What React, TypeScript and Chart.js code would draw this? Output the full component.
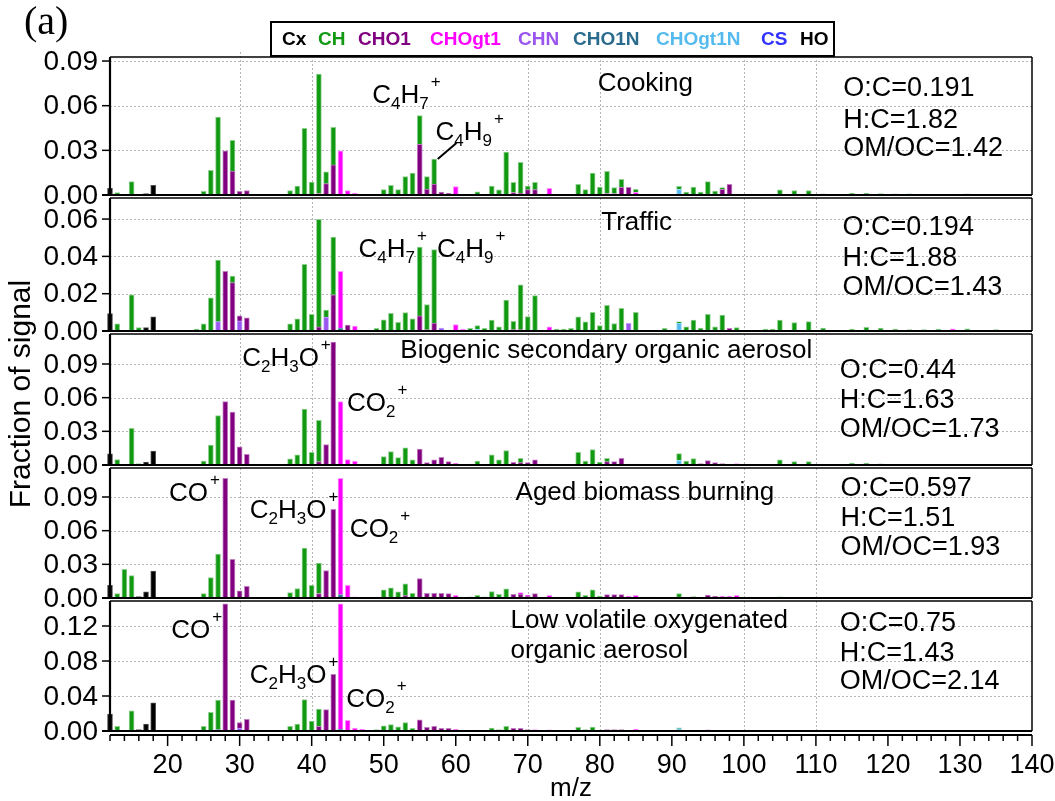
import React, { useEffect, useRef } from 'react';
import { Chart, registerables } from 'chart.js';
Chart.register(...registerables);

type Pair = [number, number];

// ---------- data: [m/z, fraction of signal] ----------
// Cooking
const cookCx: Pair[] = [[12, 0.0045]];
const cookHO: Pair[] = [[17, 0.001], [18, 0.0065]];
const cookCH: Pair[] = [[13, 0.0016], [15, 0.009], [25, 0.0025], [26, 0.0166], [27, 0.0524], [29, 0.0206], [37, 0.003], [38, 0.006], [39, 0.0448], [40, 0.0087], [41, 0.0803], [42, 0.0079], [43, 0.0253], [49, 0.0005], [50, 0.0036], [51, 0.0065], [52, 0.0036], [53, 0.0123], [54, 0.0143], [55, 0.0193], [56, 0.0083], [57, 0.0168], [62, 0.0005], [63, 0.0016], [65, 0.006], [66, 0.0034], [67, 0.0289], [68, 0.0069], [69, 0.0207], [70, 0.0024], [71, 0.0049], [72, 0.0004], [77, 0.0072], [78, 0.0036], [79, 0.0148], [80, 0.0054], [81, 0.0149], [82, 0.004], [83, 0.0053], [85, 0.002], [86, 0.0005], [89, 0.0007], [91, 0.002], [92, 0.002], [93, 0.0054], [94, 0.002], [95, 0.0083], [96, 0.0027], [97, 0.0012], [103, 0.0007], [104, 0.0007], [105, 0.0034], [107, 0.003], [109, 0.003], [111, 0.0008], [115, 0.0012], [117, 0.0012], [119, 0.001], [121, 0.0008], [123, 0.0008], [125, 0.0006], [131, 0.0008], [135, 0.0005]];
const cookCHO1: Pair[] = [[28, 0.0296], [29, 0.0161], [30, 0.0025], [31, 0.003], [41, 0.001], [42, 0.0076], [43, 0.0202], [54, 0.0005], [55, 0.034], [56, 0.004], [57, 0.0074], [58, 0.0019], [59, 0.0011], [68, 0.0016], [69, 0.0013], [70, 0.0036], [71, 0.0036], [81, 0.001], [82, 0.001], [83, 0.0052], [84, 0.0052], [95, 0.0007], [97, 0.0038], [98, 0.0072], [99, 0.0007]];
const cookCHOgt1: Pair[] = [[44, 0.0296], [45, 0.003], [46, 0.0013], [60, 0.0056], [61, 0.0007], [73, 0.0045], [74, 0.0007], [85, 0.0018], [87, 0.0007], [129, 0.0006]];
const cookCHN: Pair[] = [];
const cookCHO1N: Pair[] = [[63, 0.0005]];
const cookCHOgt1N: Pair[] = [[91, 0.0038]];

// Traffic
const trafCx: Pair[] = [[12, 0.0094]];
const trafHO: Pair[] = [[17, 0.0018], [18, 0.0076]];
const trafCH: Pair[] = [[13, 0.0038], [15, 0.0194], [16, 0.0018], [24, 0.001], [25, 0.0038], [26, 0.0178], [27, 0.033], [29, 0.0036], [37, 0.0038], [38, 0.0065], [39, 0.0358], [40, 0.009], [41, 0.0576], [42, 0.0038], [43, 0.031], [49, 0.0014], [50, 0.006], [51, 0.0095], [52, 0.0047], [53, 0.0099], [54, 0.0065], [55, 0.0369], [56, 0.0135], [57, 0.0394], [62, 0.0014], [63, 0.0019], [64, 0.0014], [65, 0.0058], [66, 0.0023], [67, 0.0166], [68, 0.0045], [69, 0.024], [70, 0.0077], [71, 0.019], [72, 0.0005], [74, 0.001], [75, 0.001], [76, 0.0014], [77, 0.0076], [78, 0.0049], [79, 0.01], [80, 0.0029], [81, 0.0137], [82, 0.004], [83, 0.0122], [85, 0.01], [89, 0.0014], [91, 0.0006], [92, 0.0023], [93, 0.0058], [94, 0.0016], [95, 0.009], [96, 0.0023], [97, 0.0085], [99, 0.0018], [103, 0.001], [104, 0.001], [105, 0.0058], [107, 0.0045], [109, 0.005], [111, 0.0015], [115, 0.001], [117, 0.002], [119, 0.0015], [121, 0.001], [123, 0.0008], [125, 0.0008], [127, 0.001], [131, 0.0012], [135, 0.0008]];
const trafCHO1: Pair[] = [[28, 0.032], [29, 0.0259], [30, 0.0027], [31, 0.007], [41, 0.0022], [43, 0.0194], [45, 0.0032], [55, 0.0081], [56, 0.0007], [57, 0.0043], [68, 0.0007], [69, 0.0007], [98, 0.0014]];
const trafCHOgt1: Pair[] = [[44, 0.0305], [46, 0.0027], [60, 0.0034], [61, 0.001], [73, 0.0018], [129, 0.0012]];
const trafCHN: Pair[] = [[27, 0.005], [30, 0.0054], [42, 0.0074], [58, 0.0016], [84, 0.0041]];
const trafCHO1N: Pair[] = [[44, 0.0015], [73, 0.0005]];
const trafCHOgt1N: Pair[] = [[63, 0.001], [91, 0.0043]];

// Biogenic SOA
const bsoaCx: Pair[] = [[12, 0.0099]];
const bsoaHO: Pair[] = [[17, 0.0027], [18, 0.0123]];
const bsoaCH: Pair[] = [[13, 0.0048], [15, 0.0327], [16, 0.0012], [25, 0.0036], [26, 0.0177], [27, 0.0441], [37, 0.0054], [38, 0.009], [39, 0.0498], [40, 0.0114], [41, 0.0369], [49, 0.0006], [50, 0.0075], [51, 0.012], [52, 0.0066], [53, 0.0153], [54, 0.0045], [62, 0.0009], [63, 0.003], [65, 0.009], [66, 0.0045], [67, 0.0129], [69, 0.0039], [77, 0.0114], [78, 0.0036], [79, 0.0138], [80, 0.0027], [81, 0.003], [91, 0.006], [92, 0.0036], [93, 0.0057], [105, 0.0045], [107, 0.003], [109, 0.003], [115, 0.0015], [117, 0.0015], [119, 0.001]];
const bsoaCHO1: Pair[] = [[28, 0.0564], [29, 0.0471], [30, 0.0156], [31, 0.0096], [41, 0.003], [42, 0.0177], [43, 0.1095], [55, 0.0141], [56, 0.0021], [57, 0.0045], [58, 0.0069], [59, 0.003], [68, 0.0024], [69, 0.0021], [70, 0.0021], [71, 0.0045], [73, 0.0009], [81, 0.003], [82, 0.003], [83, 0.006], [84, 0.0009], [94, 0.0012], [95, 0.0039], [96, 0.0021], [97, 0.0012]];
const bsoaCHOgt1: Pair[] = [[44, 0.0564], [45, 0.0048], [46, 0.0036], [60, 0.0015], [74, 0.0006], [85, 0.0009], [98, 0.0009], [99, 0.0012]];
const bsoaCHN: Pair[] = [[30, 0.0006], [42, 0.0006]];
const bsoaCHO1N: Pair[] = [];
const bsoaCHOgt1N: Pair[] = [[63, 0.0006], [91, 0.0042]];

// Aged biomass burning
const abbCx: Pair[] = [[12, 0.0112]];
const abbHO: Pair[] = [[16, 0.0012], [17, 0.0055], [18, 0.0239]];
const abbCH: Pair[] = [[13, 0.0039], [14, 0.0255], [15, 0.02], [25, 0.0039], [26, 0.0182], [27, 0.0391], [37, 0.0048], [38, 0.0085], [39, 0.0445], [40, 0.0112], [41, 0.0273], [49, 0.0009], [50, 0.0073], [51, 0.0091], [52, 0.0055], [53, 0.0106], [54, 0.0042], [62, 0.001], [63, 0.0018], [64, 0.001], [65, 0.0058], [66, 0.0033], [67, 0.0082], [77, 0.0055], [78, 0.0024], [79, 0.0073], [80, 0.0018], [89, 0.0009], [91, 0.003], [93, 0.0012], [105, 0.001]];
const abbCHO1: Pair[] = [[28, 0.1067], [29, 0.0345], [30, 0.0064], [31, 0.0103], [41, 0.0039], [42, 0.0245], [43, 0.0791], [53, 0.0021], [55, 0.0173], [56, 0.0042], [57, 0.0042], [58, 0.0042], [59, 0.0039], [68, 0.0033], [69, 0.0036], [70, 0.0018], [71, 0.0039], [81, 0.003], [82, 0.003], [83, 0.003], [95, 0.0027], [96, 0.0015]];
const abbCHOgt1: Pair[] = [[22, 0.0005], [44, 0.1037], [45, 0.0112], [46, 0.001], [47, 0.0006], [60, 0.0024], [69, 0.0012], [70, 0.0006], [72, 0.0009], [73, 0.0024], [74, 0.0009], [75, 0.0006], [84, 0.0018], [85, 0.0024], [86, 0.0009], [87, 0.0009], [97, 0.0015], [98, 0.0015], [99, 0.0024], [101, 0.0009], [103, 0.0006]];
const abbCHN: Pair[] = [];
const abbCHO1N: Pair[] = [[44, 0.003]];
const abbCHOgt1N: Pair[] = [[63, 0.0006], [91, 0.0009]];

// Low volatile OOA
const lvCx: Pair[] = [[12, 0.0193]];
const lvHO: Pair[] = [[16, 0.0015], [17, 0.008], [18, 0.0322]];
const lvCH: Pair[] = [[13, 0.0053], [15, 0.0231], [25, 0.0053], [26, 0.0212], [27, 0.0337], [37, 0.0053], [38, 0.008], [39, 0.036], [40, 0.0114], [41, 0.0197], [49, 0.0015], [50, 0.006], [51, 0.0072], [52, 0.0049], [53, 0.0095], [54, 0.003], [62, 0.0008], [63, 0.001], [65, 0.0034], [66, 0.0015], [67, 0.0053], [77, 0.0042], [78, 0.0015], [79, 0.0045], [80, 0.001], [91, 0.0008]];
const lvCHO1: Pair[] = [[28, 0.1452], [29, 0.0352], [30, 0.0061], [31, 0.0133], [41, 0.0053], [42, 0.0246], [43, 0.0648], [55, 0.0129], [56, 0.0042], [57, 0.0053], [58, 0.003], [59, 0.003], [68, 0.003], [69, 0.003], [70, 0.0015], [81, 0.0015], [82, 0.0015], [83, 0.0015], [95, 0.0012]];
const lvCHOgt1: Pair[] = [[44, 0.1432], [45, 0.0121], [46, 0.0034], [47, 0.0019], [60, 0.002], [71, 0.0015], [73, 0.0012], [85, 0.0023]];
const lvCHN: Pair[] = [[27, 0.0015], [30, 0.0034]];
const lvCHO1N: Pair[] = [[44, 0.002]];
const lvCHOgt1N: Pair[] = [[91, 0.0027]];

// ---------- labels / axes ----------
const FAMILIES = ['Cx', 'CH', 'CHO1', 'CHOgt1', 'CHN', 'CHO1N', 'CHOgt1N', 'CS', 'HO'];
const STACK_ORDER = ['CHO1N', 'CHOgt1N', 'CHN', 'CS', 'Cx', 'HO', 'CHO1', 'CHOgt1', 'CH'];
const FAMILY_COLORS: Record<string, string> = {
  Cx: '#000000', CH: '#119911', CHO1: '#800080', CHOgt1: '#ff00ff', CHN: '#9955ee',
  CHO1N: '#2a6b8e', CHOgt1N: '#55bbee', CS: '#3333ff', HO: '#000000',
};
const FAMILY_EDGES: Record<string, string> = {
  Cx: '#555555', CH: '#8fd08f', CHO1: '#c080c0', CHOgt1: '#ff99ff', CHN: '#c0a0ff',
  CHO1N: '#80a8c0', CHOgt1N: '#a0dcf8', CS: '#9999ff', HO: '#555555',
};
const LEGEND_X = [282, 318, 358, 430, 518, 573, 656, 761, 800];

const PANEL_NAMES = [['Cooking'], ['Traffic'], ['Biogenic secondary organic aerosol'], ['Aged biomass burning'], ['Low volatile oxygenated', 'organic aerosol']];
const PANEL_RATIOS = [
  ['O:C=0.191', 'H:C=1.82', 'OM/OC=1.42'],
  ['O:C=0.194', 'H:C=1.88', 'OM/OC=1.43'],
  ['O:C=0.44', 'H:C=1.63', 'OM/OC=1.73'],
  ['O:C=0.597', 'H:C=1.51', 'OM/OC=1.93'],
  ['O:C=0.75', 'H:C=1.43', 'OM/OC=2.14'],
];
const Y_MAX = [0.0927, 0.0729, 0.1194, 0.1185, 0.152];
const Y_STEP = [0.03, 0.02, 0.03, 0.03, 0.04];
const Y_TICK_MAX = [0.09, 0.06, 0.09, 0.09, 0.12];
const PANEL_WEIGHT = [138, 136, 134, 133, 133];
const X_MIN = 12;
const X_MAX = 140;
const X_TICKS = [20, 30, 40, 50, 60, 70, 80, 90, 100, 110, 120, 130, 140];
const V_GRID = [30, 40, 70, 80, 100, 110];

// annotations: [text, m/z of left edge, px above baseline]
type Ann = [string, number, number];
const NAME_POS: [number, number][] = [[79.7, 104], [80.2, 101], [52.3, 107], [68.3, 98], [67.6, 103]];
const RATIO_POS: [number, number[]][] = [
  [113.8, [99, 67, 39]], [113.7, [96, 65, 36]], [113.3, [87, 57, 28]], [113.4, [102, 72, 43]], [113.3, [100, 70, 42]],
];
const ION_LABELS: Ann[][] = [
  [['C_4H_7^+', 48.4, 92], ['C_4H_9^+', 57.2, 55]],
  [['C_4H_7^+', 46.5, 74], ['C_4H_9^+', 57.4, 74]],
  [['C_2H_3O^+', 30.35, 99], ['CO_2^+', 44.9, 54]],
  [['CO^+', 20.2, 97], ['C_2H_3O^+', 31.4, 80], ['CO_2^+', 45.3, 61]],
  [['CO^+', 20.5, 93], ['C_2H_3O^+', 31.4, 48], ['CO_2^+', 44.8, 24]],
];

const PANEL_DATA: Record<string, Pair[]>[] = [
  { Cx: cookCx, CH: cookCH, CHO1: cookCHO1, CHOgt1: cookCHOgt1, CHN: cookCHN, CHO1N: cookCHO1N, CHOgt1N: cookCHOgt1N, CS: [], HO: cookHO },
  { Cx: trafCx, CH: trafCH, CHO1: trafCHO1, CHOgt1: trafCHOgt1, CHN: trafCHN, CHO1N: trafCHO1N, CHOgt1N: trafCHOgt1N, CS: [], HO: trafHO },
  { Cx: bsoaCx, CH: bsoaCH, CHO1: bsoaCHO1, CHOgt1: bsoaCHOgt1, CHN: bsoaCHN, CHO1N: bsoaCHO1N, CHOgt1N: bsoaCHOgt1N, CS: [], HO: bsoaHO },
  { Cx: abbCx, CH: abbCH, CHO1: abbCHO1, CHOgt1: abbCHOgt1, CHN: abbCHN, CHO1N: abbCHO1N, CHOgt1N: abbCHOgt1N, CS: [], HO: abbHO },
  { Cx: lvCx, CH: lvCH, CHO1: lvCHO1, CHOgt1: lvCHOgt1, CHN: lvCHN, CHO1N: lvCHO1N, CHOgt1N: lvCHOgt1N, CS: [], HO: lvHO },
];

const FONT = '"Liberation Sans", Arial, Helvetica, sans-serif';
const TXT = 26;
const RATIO_TXT = 27;
const TICK_TXT = 28;

function drawRich(ctx: CanvasRenderingContext2D, text: string, x: number, y: number, size: number) {
  let cx = x;
  let i = 0;
  ctx.textAlign = 'left';
  ctx.textBaseline = 'alphabetic';
  while (i < text.length) {
    const ch = text[i];
    if (ch === '_' || ch === '^') {
      const c = text[i + 1];
      const s = Math.round(size * 0.66);
      ctx.font = `${s}px ${FONT}`;
      const dy = ch === '_' ? size * 0.24 : -size * 0.6;
      if (ch === '^') cx += 2;
      ctx.fillText(c, cx, y + dy);
      cx += ctx.measureText(c).width;
      i += 2;
    } else {
      ctx.font = `${size}px ${FONT}`;
      ctx.fillText(ch, cx, y);
      cx += ctx.measureText(ch).width;
      i += 1;
    }
  }
}

function line(ctx: CanvasRenderingContext2D, x1: number, y1: number, x2: number, y2: number) {
  ctx.beginPath();
  ctx.moveTo(x1, y1);
  ctx.lineTo(x2, y2);
  ctx.stroke();
}

function panelTop(chart: any, i: number) {
  const ys = chart.scales['y' + i];
  return i === 0 ? ys.top : ys.top + 3;
}

const framePlugin = {
  id: 'msFrames',
  beforeDatasetsDraw(chart: any) {
    const ctx: CanvasRenderingContext2D = chart.ctx;
    const xs = chart.scales.x;
    const area = chart.chartArea;
    ctx.save();
    ctx.strokeStyle = '#b4b4b4';
    ctx.lineWidth = 1;
    ctx.setLineDash([2, 2]);
    for (let i = 0; i < 5; i++) {
      const ys = chart.scales['y' + i];
      const top = panelTop(chart, i);
      const base = ys.getPixelForValue(0);
      for (let v = Y_STEP[i]; v <= Y_TICK_MAX[i] + 1e-9; v += Y_STEP[i]) {
        const y = Math.round(ys.getPixelForValue(v)) + 0.5;
        line(ctx, area.left, y, area.right, y);
      }
      V_GRID.forEach((m) => {
        const x = Math.round(xs.getPixelForValue(m)) + 0.5;
        line(ctx, x, i === 0 ? top - 5 : top, x, base);
      });
    }
    ctx.restore();
  },
  afterDatasetsDraw(chart: any) {
    const ctx: CanvasRenderingContext2D = chart.ctx;
    const xs = chart.scales.x;
    const area = chart.chartArea;
    const L = area.left;
    const R = area.right;
    ctx.save();
    ctx.strokeStyle = '#000';
    ctx.fillStyle = '#000';
    for (let i = 0; i < 5; i++) {
      const ys = chart.scales['y' + i];
      const top = panelTop(chart, i);
      const base = ys.getPixelForValue(0);
      // frame
      ctx.lineWidth = 1.5;
      line(ctx, L, top, R, top);
      line(ctx, R, top, R, base);
      ctx.lineWidth = 2;
      line(ctx, L - 8, base, R, base);
      ctx.lineWidth = 2.2;
      line(ctx, L, top, L, base);
      // y ticks + labels
      ctx.lineWidth = 1.5;
      ctx.font = `${TICK_TXT}px ${FONT}`;
      ctx.textAlign = 'right';
      ctx.textBaseline = 'middle';
      for (let v = 0; v <= Y_TICK_MAX[i] + 1e-9; v += Y_STEP[i]) {
        const y = ys.getPixelForValue(v);
        line(ctx, L - 8, y, L, y);
        ctx.fillText(v.toFixed(2), L - 12, y + 1);
      }
      // panel name
      ctx.textAlign = 'left';
      ctx.textBaseline = 'alphabetic';
      const [nm, ndy] = NAME_POS[i];
      PANEL_NAMES[i].forEach((t, k) => {
        ctx.font = `${TXT}px ${FONT}`;
        ctx.fillText(t, xs.getPixelForValue(nm), base - ndy + k * 30);
      });
      // ratios
      const [rm, rdy] = RATIO_POS[i];
      PANEL_RATIOS[i].forEach((t, k) => {
        ctx.font = `${RATIO_TXT}px ${FONT}`;
        ctx.fillText(t, xs.getPixelForValue(rm), base - rdy[k]);
      });
      // ion labels
      ION_LABELS[i].forEach(([t, m, dy]) => drawRich(ctx, t, xs.getPixelForValue(m), base - dy, TXT));
      if (i === 0) {
        ctx.lineWidth = 2;
        line(ctx, xs.getPixelForValue(57.5), base - 36, xs.getPixelForValue(60.1), base - 52);
      }
    }
    // bottom x axis
    const base4 = chart.scales.y4.getPixelForValue(0);
    const ax = base4 + 4;
    ctx.lineWidth = 2;
    line(ctx, L, ax, R, ax);
    ctx.lineWidth = 1.5;
    for (let m = X_MIN; m <= X_MAX; m += 2) {
      const x = xs.getPixelForValue(m);
      const major = m % 10 === 0;
      line(ctx, x, ax, x, ax + (major ? 11 : 6));
    }
    ctx.font = `27px ${FONT}`;
    ctx.textAlign = 'center';
    ctx.textBaseline = 'alphabetic';
    X_TICKS.forEach((m) => ctx.fillText(String(m), xs.getPixelForValue(m), ax + 38));
    ctx.font = `${TXT}px ${FONT}`;
    ctx.fillText('m/z', (L + R) / 2, ax + 61);
    // y title
    ctx.save();
    ctx.translate(22, (area.top + area.bottom) / 2);
    ctx.rotate(-Math.PI / 2);
    ctx.font = `30px ${FONT}`;
    ctx.textAlign = 'center';
    ctx.textBaseline = 'middle';
    ctx.fillText('Fraction of signal', 0, 0);
    ctx.restore();
    // (a)
    ctx.font = `40px "Liberation Serif", "Times New Roman", serif`;
    ctx.textAlign = 'left';
    ctx.fillText('(a)', 24, 34);
    // legend
    ctx.fillStyle = '#fff';
    ctx.fillRect(271, 22, 563, 34);
    ctx.lineWidth = 2;
    ctx.strokeStyle = '#000';
    ctx.strokeRect(271, 22, 563, 34);
    ctx.font = `bold 19px ${FONT}`;
    ctx.textBaseline = 'middle';
    FAMILIES.forEach((f, k) => {
      ctx.fillStyle = FAMILY_COLORS[f];
      ctx.fillText(f, LEGEND_X[k], 40);
    });
    ctx.restore();
  },
};

export default function App() {
  const ref = useRef<HTMLCanvasElement | null>(null);
  useEffect(() => {
    document.body.style.margin = '0';
    const canvas = ref.current;
    if (!canvas) return;
    const datasets: any[] = [];
    PANEL_DATA.forEach((pd, i) => {
      STACK_ORDER.forEach((f) => {
        const arr = pd[f] || [];
        if (!arr.length) return;
        datasets.push({
          type: 'bar',
          label: `${f}-${i}`,
          data: arr.map(([x, y]) => ({ x, y })),
          xAxisID: 'x',
          yAxisID: 'y' + i,
          stack: 'p' + i,
          grouped: false,
          backgroundColor: FAMILY_COLORS[f],
          borderColor: FAMILY_EDGES[f],
          borderWidth: 1,
          borderSkipped: 'start',
          barThickness: 5,
          clip: false,
        });
      });
    });
    const scales: any = {
      x: { type: 'linear', min: X_MIN, max: X_MAX, display: false, stacked: true, offset: false, grid: { offset: false } },
    };
    for (let i = 0; i < 5; i++) {
      scales['y' + i] = {
        type: 'linear',
        position: 'left',
        stack: 'panels',
        stackWeight: PANEL_WEIGHT[i],
        weight: 10 - i,
        min: 0,
        max: Y_MAX[i],
        stacked: true,
        display: false,
      };
    }
    const chart = new Chart(canvas, {
      type: 'bar',
      data: { datasets },
      options: {
        animation: false,
        responsive: true,
        maintainAspectRatio: false,
        layout: { padding: { left: 110, right: 23, top: 57, bottom: 70 } },
        plugins: { legend: { display: false }, tooltip: { enabled: false } },
        scales,
      },
      plugins: [framePlugin],
    });
    return () => chart.destroy();
  }, []);
  return (
    <div style={{ width: 1055, height: 801, position: 'relative', background: '#fff' }}>
      <canvas ref={ref} />
    </div>
  );
}
